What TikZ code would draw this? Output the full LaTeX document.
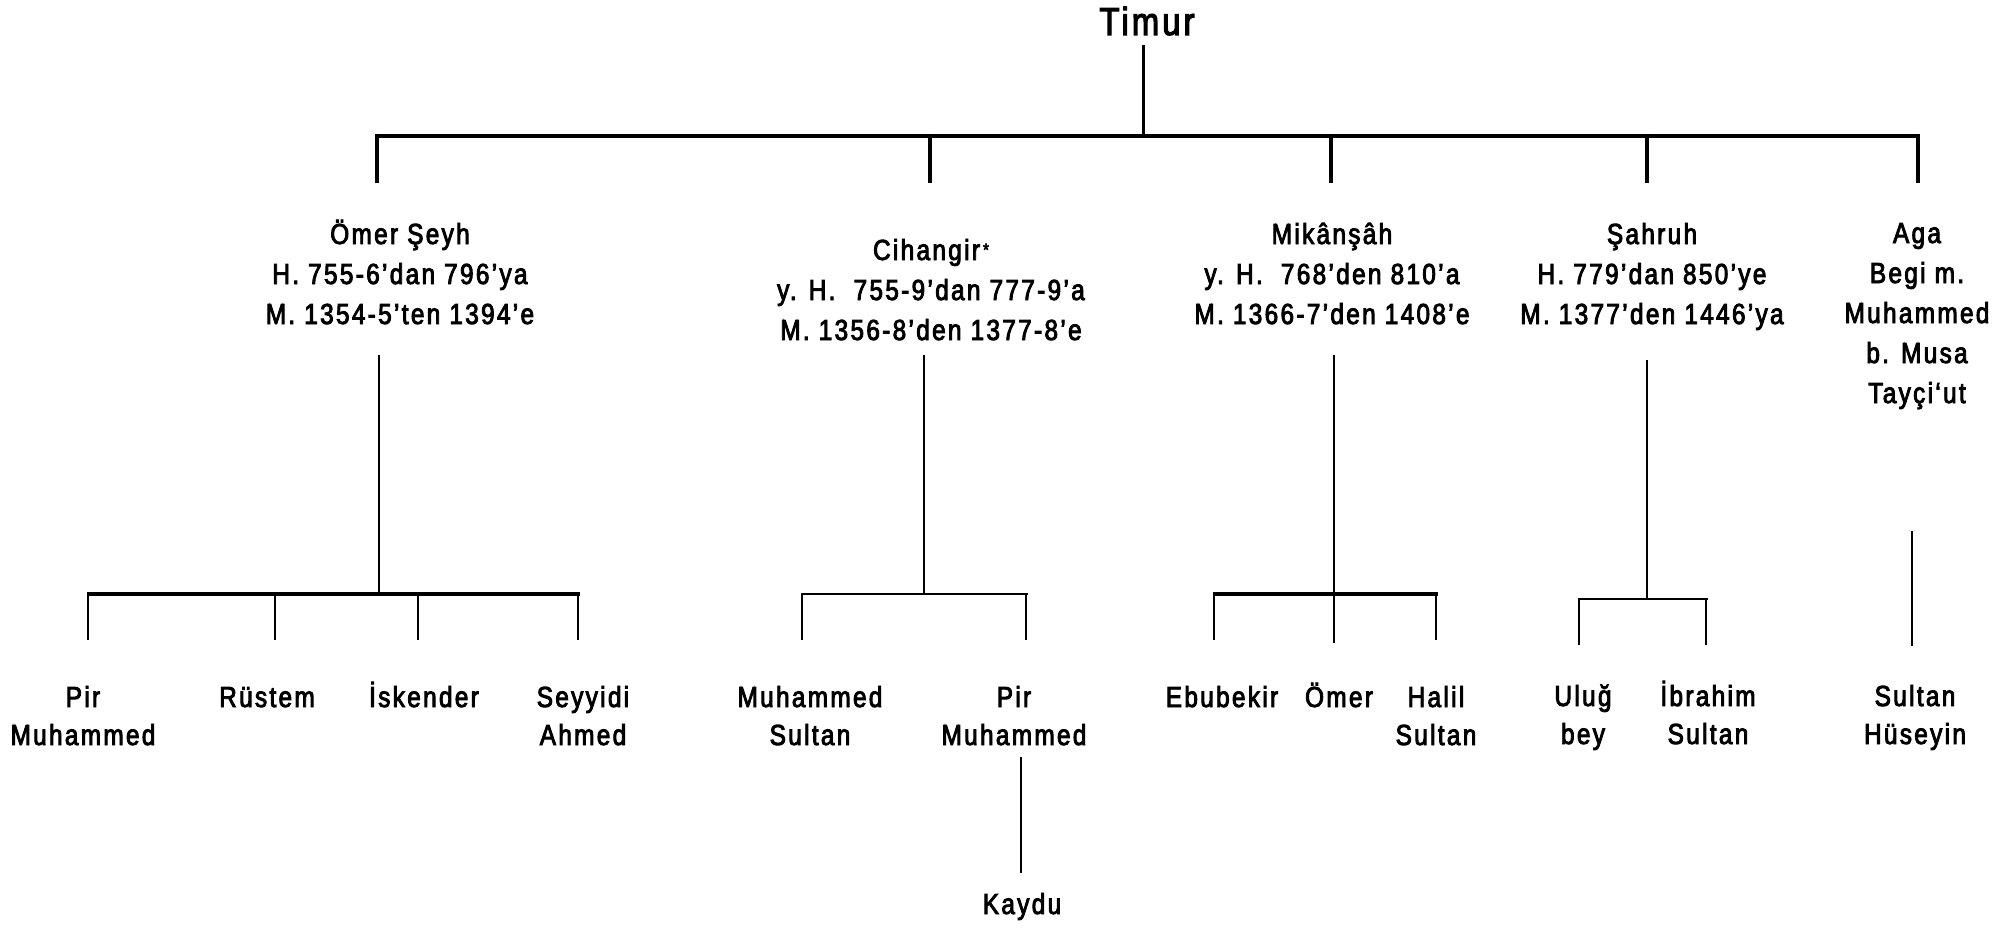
\documentclass[tikz,border=0pt]{standalone}
\usepackage{fontspec}
\setmainfont{Liberation Sans}[FakeStretch=0.84, LetterSpace=8, FakeBold=3]
\tikzset{
  lab/.style={font=\fontsize{29}{40}\selectfont, align=center, inner sep=0pt, anchor=base},
  kid/.style={font=\fontsize{29}{38}\selectfont, align=center, inner sep=0pt, anchor=base},
  ttl/.style={font=\fontsize{39}{44}\selectfont, inner sep=0pt, anchor=base},
  topbar/.style={line width=4.5pt},
  topdrop/.style={line width=4pt},
  stem/.style={line width=2.6pt},
  lowbar/.style={line width=3.3pt},
  lowdrop/.style={line width=2.4pt}
}
\begin{document}
\begin{tikzpicture}[x=1pt,y=-1pt]
\fill[white] (0,0) rectangle (2008,928);
\useasboundingbox (0,0) rectangle (2008,928);

% ---- nodes (base anchor = baseline of the last line) ----
\node[ttl] (timur) at (1147,35) {Timur};
\node[lab] (omer) at (400,324) {Ömer Şeyh\\H. 755-6’dan 796’ya\\M. 1354-5’ten 1394’e};
\node[lab] (cihan) at (931,340) {Cihangir\hspace{3pt}\raisebox{4pt}{\fontsize{18}{18}\selectfont *}\\y. H.\ \ 755-9’dan 777-9’a\\M. 1356-8’den 1377-8’e};
\node[lab] (mikan) at (1332,324) {Mikânşâh\\y. H.\ \ 768’den 810’a\\M. 1366-7’den 1408’e};
\node[lab] (sahruh) at (1652,324) {Şahruh\\H. 779’dan 850’ye\\M. 1377’den 1446’ya};
\node[lab] (aga) at (1917,403) {Aga\\Begi m.\\Muhammed\\b. Musa\\Tayçi‘ut};

\node[kid] (o1) at (83,745) {Pir\\Muhammed};
\node[kid] (o2) at (267,707) {Rüstem};
\node[kid] (o3) at (424,707) {İskender};
\node[kid] (o4) at (583,745) {Seyyidi\\Ahmed};
\node[kid] (c1) at (810,745) {Muhammed\\Sultan};
\node[kid] (c2) at (1014,745) {Pir\\Muhammed};
\node[kid] (m1) at (1222,707) {Ebubekir};
\node[kid] (m2) at (1339,707) {Ömer};
\node[kid] (m3) at (1436,745) {Halil\\Sultan};
\node[kid] (s1) at (1583,744) {Uluğ\\bey};
\node[kid] (s2) at (1708,744) {İbrahim\\Sultan};
\node[kid] (a1) at (1915,744) {Sultan\\Hüseyin};
\node[kid] (kaydu) at (1022,914) {Kaydu};

% ---- junction coordinates ----
\coordinate (tS) at (1143,45);
\coordinate (tJ) at (1143,136);
\coordinate (barL) at (376,136);
\coordinate (barR) at (1920,136);
\coordinate (dO1) at (377,134); \coordinate (dO2) at (377,183);
\coordinate (dC1) at (930,134); \coordinate (dC2) at (930,183);
\coordinate (dM1) at (1331,134); \coordinate (dM2) at (1331,183);
\coordinate (dS1) at (1647,134); \coordinate (dS2) at (1647,183);
\coordinate (dA1) at (1918,134); \coordinate (dA2) at (1918,183);

% Omer Seyh branch
\coordinate (oT) at (379,355); \coordinate (oJ) at (379,594);
\coordinate (oL) at (87,594); \coordinate (oR) at (580,594);
\coordinate (o1a) at (88,593); \coordinate (o1b) at (88,640);
\coordinate (o2a) at (275,594); \coordinate (o2b) at (275,640);
\coordinate (o3a) at (418,594); \coordinate (o3b) at (418,640);
\coordinate (o4a) at (578,593); \coordinate (o4b) at (578,640);

% Cihangir branch
\coordinate (cT) at (924,355); \coordinate (cJ) at (924,594);
\coordinate (cL) at (801,594); \coordinate (cR) at (1028,594);
\coordinate (c1a) at (802,593); \coordinate (c1b) at (802,640);
\coordinate (c2a) at (1026,593); \coordinate (c2b) at (1026,640);
\coordinate (kT) at (1021,757); \coordinate (kB) at (1021,873);

% Mikansah branch
\coordinate (mT) at (1334,355); \coordinate (mJ) at (1334,594);
\coordinate (mL) at (1213,594); \coordinate (mR) at (1438,594);
\coordinate (m1a) at (1214,593); \coordinate (m1b) at (1214,640);
\coordinate (m2b) at (1334,643);
\coordinate (m3a) at (1436,593); \coordinate (m3b) at (1436,640);

% Sahruh branch
\coordinate (sT) at (1647,360); \coordinate (sJ) at (1647,599);
\coordinate (sL) at (1578,599); \coordinate (sR) at (1708,599);
\coordinate (s1a) at (1579,598); \coordinate (s1b) at (1579,645);
\coordinate (s2a) at (1706,598); \coordinate (s2b) at (1706,645);

% Aga branch
\coordinate (aT) at (1912,531); \coordinate (aB) at (1912,646);

% ---- connectors ----
\draw[line width=3pt] (tS) -- (tJ);
\draw[topbar] (barL) -- (barR);
\draw[topdrop] (dO1) -- (dO2);
\draw[topdrop] (dC1) -- (dC2);
\draw[topdrop] (dM1) -- (dM2);
\draw[topdrop] (dS1) -- (dS2);
\draw[topdrop] (dA1) -- (dA2);

\draw[stem] (oT) -- (oJ);
\draw[lowbar] (oL) -- (oR);
\draw[lowdrop] (o1a) -- (o1b);
\draw[lowdrop] (o2a) -- (o2b);
\draw[lowdrop] (o3a) -- (o3b);
\draw[lowdrop] (o4a) -- (o4b);

\draw[stem] (cT) -- (cJ);
\draw[line width=2.7pt] (cL) -- (cR);
\draw[lowdrop] (c1a) -- (c1b);
\draw[lowdrop] (c2a) -- (c2b);
\draw[stem] (kT) -- (kB);

\draw[stem] (mT) -- (m2b);
\draw[lowbar] (mL) -- (mR);
\draw[lowdrop] (m1a) -- (m1b);
\draw[lowdrop] (m3a) -- (m3b);

\draw[stem] (sT) -- (sJ);
\draw[line width=2.7pt] (sL) -- (sR);
\draw[lowdrop] (s1a) -- (s1b);
\draw[lowdrop] (s2a) -- (s2b);

\draw[stem] (aT) -- (aB);
\end{tikzpicture}
\end{document}
